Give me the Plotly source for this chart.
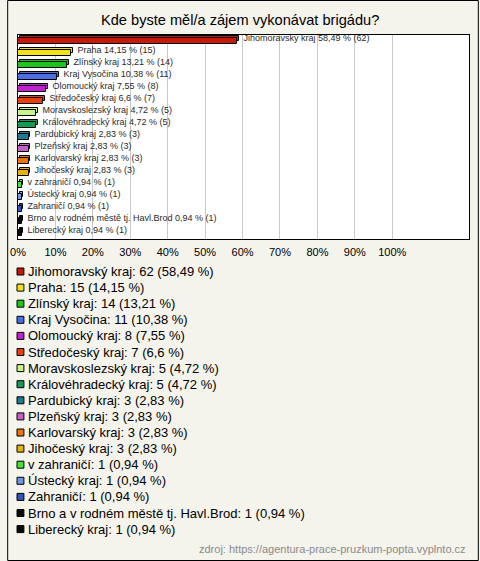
import plotly.graph_objects as go

title = "Kde byste měl/a zájem vykonávat brigádu?"
categories = ["Jihomoravský kraj", "Praha", "Zlínský kraj", "Kraj Vysočina", "Olomoucký kraj",
              "Středočeský kraj", "Moravskoslezský kraj", "Královéhradecký kraj", "Pardubický kraj",
              "Plzeňský kraj", "Karlovarský kraj", "Jihočeský kraj", "v zahraničí", "Ústecký kraj",
              "Zahraničí", "Brno a v rodném městě tj. Havl.Brod", "Liberecký kraj"]
counts = [62, 15, 14, 11, 8, 7, 5, 5, 3, 3, 3, 3, 1, 1, 1, 1, 1]
percents = [58.49, 14.15, 13.21, 10.38, 7.55, 6.6, 4.72, 4.72, 2.83, 2.83, 2.83, 2.83,
            0.94, 0.94, 0.94, 0.94, 0.94]
colors = ["#c41a0b", "#f5e11b", "#1ec41e", "#4a6fe3", "#c21fd0", "#e5400f", "#c6f58a",
          "#139a54", "#1e7a91", "#c45fc6", "#e87512", "#e5b20f", "#45e23a", "#6f96e0",
          "#2f55b8", "#0a0a0a", "#0a0a0a"]
tick_vals = [0, 10, 20, 30, 40, 50, 60, 70, 80, 90, 100]
tick_text = [f"{v}%" for v in tick_vals]
source = "zdroj: https://agentura-prace-pruzkum-popta.vyplnto.cz"

W, H = 480, 561
ML, MR, MT, MB = 11, 10, 35, 322
PW, PH = W - ML - MR, H - MT - MB


def px(x):
    return (x - ML) / PW


def py(y):
    return (H - MB - y) / PH


def fmt(p):
    return f"{p:g}".replace(".", ",")


bar_labels = [f"\u00a0\u00a0{c} {fmt(p)} % ({n})" for c, p, n in zip(categories, percents, counts)]
legend_labels = [f"{c}: {n} ({fmt(p)} %)" for c, p, n in zip(categories, percents, counts)]

FONT = "Liberation Sans, Arial, sans-serif"
fig = go.Figure()
width = 0.42
# back (depth) face
fig.add_trace(go.Bar(
    y=categories, x=percents, orientation="h", base=0.5,
    width=width, offset=-width / 2 - 0.17,
    marker=dict(color=colors, line=dict(color="black", width=1)),
    text=bar_labels, textposition="outside", constraintext="none", cliponaxis=False,
    textfont=dict(family=FONT, size=9, color="#2a2a2a"),
    hoverinfo="skip", showlegend=False))
# front face
fig.add_trace(go.Bar(
    y=categories, x=percents, orientation="h",
    width=width, offset=-width / 2,
    marker=dict(color=colors, line=dict(color="black", width=1)),
    hoverinfo="skip", showlegend=False))

shapes = []
annotations = []
row0, dy = 271.5, 16.1
for i, (lab, col) in enumerate(zip(legend_labels, colors)):
    yc = row0 + i * dy
    shapes.append(dict(type="rect", xref="paper", yref="paper",
                       x0=px(10), x1=px(17), y0=py(yc - 3.5), y1=py(yc + 3.5),
                       fillcolor=col, line=dict(color="black", width=1)))
    annotations.append(dict(xref="paper", yref="paper", x=px(19.5), y=py(yc),
                            xanchor="left", yanchor="middle", showarrow=False, text=lab,
                            font=dict(family=FONT, size=13, color="black")))

annotations.append(dict(xref="paper", yref="paper", x=px(469), y=py(549),
                        xanchor="right", yanchor="middle", showarrow=False, text=source,
                        font=dict(family=FONT, size=11, color="#8a8a8a")))
annotations.append(dict(xref="paper", yref="paper", x=px(237), y=py(20),
                        xanchor="center", yanchor="middle", showarrow=False, text=title,
                        font=dict(family=FONT, size=14.6, color="black")))
shapes.append(dict(type="rect", xref="paper", yref="paper",
                   x0=px(0.5), x1=px(479.5), y0=py(0.5), y1=py(560.5),
                   line=dict(color="black", width=1), fillcolor="rgba(0,0,0,0)", layer="above"))

fig.update_layout(
    width=W, height=H, margin=dict(l=ML, r=MR, t=MT, b=MB),
    paper_bgcolor="#f4f3ec", plot_bgcolor="white",
    barmode="overlay", bargap=0,
    font=dict(family=FONT, size=11, color="black"),
    xaxis=dict(range=[0, 120.5], tickvals=tick_vals, ticktext=tick_text, showgrid=True,
               gridcolor="#c8c8c8", gridwidth=1, zeroline=False, showline=True, mirror=True,
               linecolor="black", linewidth=1, ticks="", tickfont=dict(family=FONT, size=11),
               ticklabelstandoff=3, fixedrange=True),
    yaxis=dict(autorange="reversed", showticklabels=False, showgrid=False, zeroline=False,
               showline=True, mirror=True, linecolor="black", linewidth=1, ticks="",
               fixedrange=True),
    shapes=shapes, annotations=annotations,
)
fig.write_html("out.html", config={"displayModeBar": False})

with open("out.html", encoding="utf-8") as f:
    html = f.read()
html = html.replace("<head>", "<head><style>html,body{margin:0;padding:0;overflow:hidden}</style>", 1)
with open("out.html", "w", encoding="utf-8") as f:
    f.write(html)
